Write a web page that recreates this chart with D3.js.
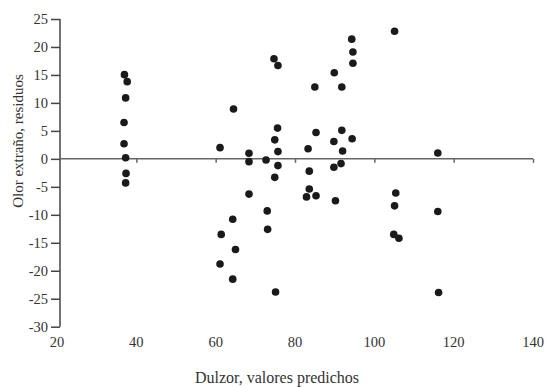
<!DOCTYPE html>
<html>
<head>
<meta charset="utf-8">
<script src="https://cdn.jsdelivr.net/npm/d3@7"></script>
<style>
  body { margin: 0; background: #fff; }
  text { font-family: "Liberation Serif", "Times New Roman", serif; fill: #333; }
</style>
</head>
<body>
<div id="resid_dataviz"></div>
<script>
// predicted sweetness (x) and off-flavour residuals (y)
var predichos = [37.0, 37.7, 37.3, 36.9, 36.9, 37.3, 37.4, 37.3,
  61.1, 64.5, 68.4, 68.4, 68.4, 72.7, 74.7, 75.7, 75.6, 74.9, 75.7, 75.7, 74.9,
  83.3, 85.0, 85.3, 83.6, 83.6, 82.9, 85.3,
  89.9, 91.8, 94.3, 94.6, 94.6, 91.8, 89.8, 94.4, 92.0, 91.6, 89.8, 90.2,
  73.0, 64.3, 73.1, 61.4, 65.0, 61.1, 64.3, 75.1,
  105.1, 116.0, 105.4, 105.1, 116.0, 104.9, 106.2, 116.2];
var residuos = [15.05, 13.8, 10.9, 6.5, 2.7, 0.2, -2.6, -4.3,
  2.0, 8.9, 1.0, -0.5, -6.3, -0.2, 17.9, 16.7, 5.5, 3.4, 1.3, -1.2, -3.3,
  1.8, 12.85, 4.7, -2.2, -5.4, -6.8, -6.6,
  15.4, 12.85, 21.4, 19.1, 17.1, 5.1, 3.1, 3.6, 1.4, -0.85, -1.5, -7.5,
  -9.3, -10.8, -12.6, -13.5, -16.2, -18.8, -21.5, -23.8,
  22.8, 1.05, -6.1, -8.4, -9.4, -13.5, -14.2, -23.9];
var xTicks = [20, 40, 60, 80, 100, 120, 140];
var yTicks = [-30, -25, -20, -15, -10, -5, 0, 5, 10, 15, 20, 25];

var width = 545, height = 387;

var data = predichos.map(function(d, i) { return { x: d, y: residuos[i] }; });

var svg = d3.select("#resid_dataviz")
  .append("svg")
    .attr("width", width)
    .attr("height", height);

// scales
var x = d3.scaleLinear()
  .domain([20, 140])
  .range([57, 533]);

var y = d3.scaleLinear()
  .domain([-30, 25])
  .range([326.7, 19]);

// Y axis on the left (plain hyphen for negatives, like the original)
var yAxis = svg.append("g")
  .attr("transform", "translate(60,0)")
  .call(d3.axisLeft(y).tickValues(yTicks).tickSize(9).tickPadding(3)
    .tickFormat(function(d) { return String(d); }));
yAxis.selectAll("path, line").attr("stroke", "#444").attr("stroke-width", 1.5);
yAxis.select(".domain").attr("d", "M0," + y(25) + "V" + y(-30));
yAxis.selectAll("text")
  .style("font-family", "'Liberation Serif', serif")
  .style("font-size", "14.5px")
  .attr("fill", "#333");

// zero line with small ticks, labels placed at the bottom
var zero = svg.append("g")
  .attr("transform", "translate(0," + y(0) + ")")
  .call(d3.axisBottom(x).tickValues(xTicks.slice(1)).tickSize(4).tickFormat(""));
zero.select(".domain").attr("d", "M60,0H" + x(140));
zero.selectAll("path, line").attr("stroke", "#666").attr("stroke-width", 1.5);

svg.append("g")
  .selectAll("text")
  .data(xTicks)
  .enter()
  .append("text")
    .attr("x", function(d) { return x(d); })
    .attr("y", 347)
    .attr("text-anchor", "middle")
    .style("font-size", "14.5px")
    .text(function(d) { return d; });

// axis titles
svg.append("text")
  .attr("x", 277)
  .attr("y", 383)
  .attr("text-anchor", "middle")
  .style("font-size", "16px")
  .text("Dulzor, valores predichos");

svg.append("text")
  .attr("transform", "translate(23,141) rotate(-90)")
  .attr("text-anchor", "middle")
  .style("font-size", "15px")
  .text("Olor extraño, residuos");

// points
svg.append("g")
  .selectAll("circle")
  .data(data)
  .enter()
  .append("circle")
    .attr("cx", function(d) { return x(d.x); })
    .attr("cy", function(d) { return y(d.y); })
    .attr("r", 3.8)
    .attr("fill", "#1a1a1a");
</script>
</body>
</html>
